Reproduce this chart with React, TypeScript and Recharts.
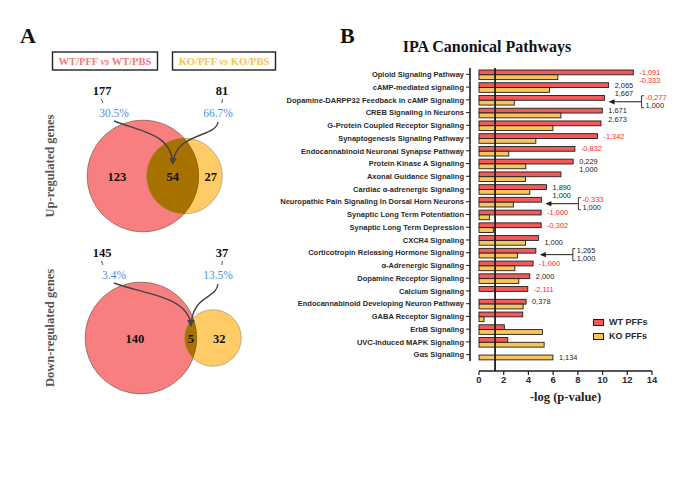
import {
  Bar, BarChart, Label, Legend, ReferenceLine, Scatter, ScatterChart, XAxis, YAxis, ZAxis,
} from "recharts";

// ---- panel B data (IPA canonical pathways, -log p) ----
const pathways = [
  "Opioid Signaling Pathway",
  "cAMP-mediated signaling",
  "Dopamine-DARPP32 Feedback in cAMP Signaling",
  "CREB Signaling in Neurons",
  "G-Protein Coupled Receptor Signaling",
  "Synaptogenesis Signaling Pathway",
  "Endocannabinoid Neuronal Synapse Pathway",
  "Protein Kinase A Signaling",
  "Axonal Guidance Signaling",
  "Cardiac α-adrenergic Signaling",
  "Neuropathic Pain Signaling In Dorsal Horn Neurons",
  "Synaptic Long Term Potentiation",
  "Synaptic Long Term Depression",
  "CXCR4 Signaling",
  "Corticotropin Releasing Hormone Signaling",
  "α-Adrenergic Signaling",
  "Dopamine Receptor Signaling",
  "Calcium Signaling",
  "Endocannabinoid Developing Neuron Pathway",
  "GABA Receptor Signaling",
  "ErbB Signaling",
  "UVC-Induced MAPK Signaling",
  "Gαs Signaling",
];
const wtPffs = [12.49, 10.49, 10.16, 9.98, 9.87, 9.59, 7.76, 7.62, 6.63, 5.46, 5.05, 5.03, 5.03, 4.81, 4.6, 4.38, 4.11, 3.95, 3.81, 3.54, 2.05, 2.33, null];
const koPffs = [6.38, 5.7, 2.86, 6.63, 5.98, 4.6, 2.41, 3.79, 3.76, 4.11, 2.78, 0.84, 1.16, 3.76, 3.11, 2.9, 3.22, null, 3.57, 0.41, 5.13, 5.27, 5.98];
// z-scores written next to the bars
const wtZ = ["-1,091", "2,065", null, "1,671", null, "-1,342", "-0,832", "0,229", null, "1,890", null, "-1,000", "-0,302", null, null, "-1,000", "2,000", "-2,111", "0,378", null, null, null, null];
const koZ = ["-0,333", "1,667", null, "2,673", null, null, null, "1,000", null, "1,000", null, null, null, "1,000", null, null, null, null, null, null, null, null, "1,134"];
const callouts = [
  { row: 2, wt: "-0,277", ko: "1,000" },
  { row: 10, wt: "-0,333", ko: "1,000" },
  { row: 14, wt: "1,265", ko: "1,000" },
];
const xTicks = [0, 2, 4, 6, 8, 10, 12, 14];
const pCutoff = 1.3;

// ---- panel A data (Venn) ----
const vennGroups = ["Up-regulated genes", "Down-regulated genes"];
const wtTotals = [177, 145];
const koTotals = [81, 37];
const sharedCounts = [54, 5];

const WT_FILL = "#F25A5A";
const KO_FILL = "#F8C45C";
const INK = "#1e1e1e";
const RED = "#FF2626";
const SANS = "'Liberation Sans', Arial, sans-serif";
const SERIF = "'Liberation Serif', 'Times New Roman', serif";
const NOTE_SIZE = 7.4;

const rows = pathways.map((name, i) => ({
  name,
  wt: wtPffs[i],
  ko: koPffs[i],
  wtNote: wtZ[i],
  koNote: koZ[i],
  callout: callouts.find((c) => c.row === i) ?? null,
}));

const noteColor = (s: string) => (s.startsWith("-") ? RED : "#222");

function Callout({ tipX, y, wt, ko }: { tipX: number; y: number; wt: string; ko: string }) {
  const bx = tipX + 33;
  return (
    <g>
      <line x1={tipX + 5} x2={bx} y1={y} y2={y} stroke={INK} strokeWidth={1} />
      <path d={`M${tipX},${y} L${tipX + 6},${y - 2.6} L${tipX + 6},${y + 2.6} Z`} fill={INK} />
      <path d={`M${bx + 2.5},${y - 6} H${bx} V${y + 6} H${bx + 2.5}`} fill="none" stroke={INK} strokeWidth={0.9} />
      <text x={bx + 4} y={y - 4.5} dy={2.6} fontSize={NOTE_SIZE} fontFamily={SANS} fill={noteColor(wt)}>{wt}</text>
      <text x={bx + 4} y={y + 4} dy={2.6} fontSize={NOTE_SIZE} fontFamily={SANS} fill={noteColor(ko)}>{ko}</text>
    </g>
  );
}

function WtBar(props: any) {
  const { x, y, width, height, payload } = props;
  if (!payload || payload.wt == null) return null;
  const unit = width / payload.wt;
  const end = x + Math.max(payload.wt, payload.ko ?? 0) * unit;
  return (
    <g>
      <rect x={x} y={y} width={width} height={height} fill={WT_FILL} stroke={INK} strokeWidth={0.9} />
      {payload.wtNote && (
        <text x={end + 6} y={y + height / 2} dy={2.6} fontSize={NOTE_SIZE} fontFamily={SANS} fill={noteColor(payload.wtNote)}>
          {payload.wtNote}
        </text>
      )}
      {payload.callout && (
        <Callout tipX={x + width + 4} y={y + height + 1.5} wt={payload.callout.wt} ko={payload.callout.ko} />
      )}
    </g>
  );
}

function KoBar(props: any) {
  const { x, y, width, height, payload } = props;
  if (!payload || payload.ko == null) return null;
  const unit = width / payload.ko;
  const end = x + Math.max(payload.ko, payload.wt ?? 0) * unit;
  const shift = payload.wtNote ? 3.5 : 0;
  return (
    <g>
      <rect x={x} y={y} width={width} height={height} fill={KO_FILL} stroke={INK} strokeWidth={0.9} />
      {payload.koNote && (
        <text x={end + 6} y={y + height / 2 + shift} dy={2.6} fontSize={NOTE_SIZE} fontFamily={SANS} fill={noteColor(payload.koNote)}>
          {payload.koNote}
        </text>
      )}
    </g>
  );
}

const BAND = 12.8;
function PathwayTick({ x, y, payload }: any) {
  return (
    <g>
      <line x1={x - 9} x2={x - 9} y1={y - BAND / 2} y2={y + BAND / 2} stroke={INK} strokeWidth={1.6} />
      <line x1={x - 13} x2={x - 9} y1={y} y2={y} stroke={INK} strokeWidth={1} />
      <text x={x - 15} y={y} dy={2.7} textAnchor="end" fontSize={7.5} fontWeight="bold" fontFamily={SANS} fill="#2a2a2a">
        {payload.value}
      </text>
    </g>
  );
}

function PathwayLegend() {
  const items = [
    { label: "WT PFFs", color: WT_FILL },
    { label: "KO PFFs", color: KO_FILL },
  ];
  return (
    <div style={{ fontFamily: SANS }}>
      {items.map((it) => (
        <div key={it.label} style={{ display: "flex", alignItems: "center", height: 14 }}>
          <span style={{ width: 9, height: 5, background: it.color, border: `1px solid ${INK}`, marginRight: 5 }} />
          <span style={{ fontSize: 9, fontWeight: "bold", color: "#2a2a2a" }}>{it.label}</span>
        </div>
      ))}
    </div>
  );
}

// ---- Venn helpers ----
function lensArea(d: number, r1: number, r2: number) {
  if (d >= r1 + r2) return 0;
  if (d <= Math.abs(r1 - r2)) return Math.PI * Math.min(r1, r2) ** 2;
  const a1 = Math.acos((d * d + r1 * r1 - r2 * r2) / (2 * d * r1));
  const a2 = Math.acos((d * d + r2 * r2 - r1 * r1) / (2 * d * r2));
  const k = Math.sqrt((-d + r1 + r2) * (d + r1 - r2) * (d - r1 + r2) * (d + r1 + r2));
  return r1 * r1 * a1 + r2 * r2 * a2 - k / 2;
}
function centerGap(r1: number, r2: number, area: number) {
  let lo = Math.abs(r1 - r2);
  let hi = r1 + r2;
  for (let i = 0; i < 60; i++) {
    const mid = (lo + hi) / 2;
    if (lensArea(mid, r1, r2) > area) lo = mid;
    else hi = mid;
  }
  return (lo + hi) / 2;
}

const BIG_R = 56;
const vennAnchors = [
  { x: 143, y: 176 },
  { x: 141, y: 338 },
];
const totalCols = [102, 222];
const pctCols = [114, 218];

const venns = vennGroups.map((name, g) => {
  const maxArea = Math.PI * BIG_R * BIG_R;
  const perGene = maxArea / wtTotals[g];
  const r2 = Math.sqrt((koTotals[g] * perGene) / Math.PI);
  const d = centerGap(BIG_R, r2, sharedCounts[g] * perGene);
  const { x, y } = vennAnchors[g];
  return {
    name,
    maxArea,
    points: [
      { x, y, z: wtTotals[g], role: "wt", g },
      { x: x + d, y, z: koTotals[g], role: "ko", g, r1: BIG_R, d },
    ],
  };
});

function VennCircle(props: any) {
  const { cx, cy, width, payload } = props;
  const r = width / 2;
  const g = payload.g;
  if (payload.role === "wt") {
    return (
      <g>
        <defs>
          <clipPath id={`wtClip${g}`}>
            <circle cx={cx} cy={cy} r={r} />
          </clipPath>
          <marker id={`vArrow${g}`} viewBox="0 0 10 10" refX="9" refY="5" markerWidth="5" markerHeight="5" orient="auto">
            <path d="M0,0 L10,5 L0,10 Z" fill="#444" />
          </marker>
        </defs>
        <circle cx={cx} cy={cy} r={r} fill="#F87F7F" stroke="#9a8a8a" strokeWidth={0.6} />
      </g>
    );
  }
  const { r1, d } = payload;
  const wx = cx - d;
  const ox = (cx - r + wx + r1) / 2;
  const onlyWtX = (wx - r1 + cx - r) / 2;
  const onlyKoX = (wx + r1 + cx + r) / 2;
  const shared = sharedCounts[g];
  const pctWt = ((shared / wtTotals[g]) * 100).toFixed(1) + "%";
  const pctKo = ((shared / koTotals[g]) * 100).toFixed(1) + "%";
  const num = { fontFamily: SERIF, fontWeight: "bold" as const, fontSize: 12.5, fill: "#111", textAnchor: "middle" as const };
  const pct = { fontFamily: SERIF, fontSize: 11.5, fill: "#4A8FDB", textAnchor: "middle" as const };
  return (
    <g>
      <circle cx={cx} cy={cy} r={r} fill="#FFCB66" stroke="#9a8a6a" strokeWidth={0.6} />
      <circle cx={cx} cy={cy} r={r} fill="#A87200" clipPath={`url(#wtClip${g})`} />
      <circle cx={wx} cy={cy} r={r1} fill="none" stroke="#6b5020" strokeWidth={0.5} clipPath={`url(#wtClip${g})`} />
      <text x={onlyWtX} y={cy + 4.5} {...num}>{wtTotals[g] - shared}</text>
      <text x={ox} y={cy + 4.5} {...num}>{shared}</text>
      <text x={onlyKoX} y={cy + 4.5} {...num}>{koTotals[g] - shared}</text>

      <text x={totalCols[0]} y={cy - 81} {...num}>{wtTotals[g]}</text>
      <text x={totalCols[1]} y={cy - 81} {...num}>{koTotals[g]}</text>
      <line x1={totalCols[0] - 0.5} y1={cy - 77} x2={totalCols[0] + 0.8} y2={cy - 73} stroke="#444" strokeWidth={0.9} />
      <line x1={totalCols[1] + 0.5} y1={cy - 77} x2={totalCols[1] - 0.2} y2={cy - 73} stroke="#444" strokeWidth={0.9} />
      <text x={pctCols[0]} y={cy - 59} {...pct}>{pctWt}</text>
      <text x={pctCols[1]} y={cy - 59} {...pct}>{pctKo}</text>

      <path
        d={`M${pctCols[0]},${cy - 55} C${pctCols[0] + 28},${cy - 44} ${ox - 1},${cy - 42} ${ox},${cy - 12}`}
        fill="none" stroke="#444" strokeWidth={1.4} markerEnd={`url(#vArrow${g})`}
      />
      <path
        d={`M${pctCols[1]},${cy - 54} C${pctCols[1] - 2},${cy - 38} ${ox + 2},${cy - 44} ${ox},${cy - 12}`}
        fill="none" stroke="#444" strokeWidth={1.4} markerEnd={`url(#vArrow${g})`}
      />
    </g>
  );
}

export default function App() {
  return (
    <div style={{ position: "absolute", left: 0, top: 0, width: 695, height: 490, background: "#fff" }}>
      <svg width={695} height={490} style={{ position: "absolute", left: 0, top: 0 }}>
        <text x={20} y={43} fontFamily={SERIF} fontWeight="bold" fontSize={22} fill="#111">A</text>
        <rect x={52.5} y={52} width={105} height={18} fill="none" stroke="#222" strokeWidth={1.4} />
        <text x={105} y={65} textAnchor="middle" fontFamily={SERIF} fontWeight="bold" fontSize={10.5} fill="#F47878">
          WT/PFF <tspan fontStyle="italic">vs</tspan> WT/PBS
        </text>
        <rect x={172.5} y={52} width={103} height={18} fill="none" stroke="#222" strokeWidth={1.4} />
        <text x={224} y={65} textAnchor="middle" fontFamily={SERIF} fontWeight="bold" fontSize={10.5} fill="#F8C24E">
          KO/PFF <tspan fontStyle="italic">vs</tspan> KO/PBS
        </text>
        {vennGroups.map((name, g) => (
          <text
            key={name}
            transform={`translate(54,${vennAnchors[g].y - 10}) rotate(-90)`}
            textAnchor="middle" fontFamily={SERIF} fontWeight="bold" fontSize={12.5} fill="#555"
          >
            {name}
          </text>
        ))}
        <text x={340} y={43} fontFamily={SERIF} fontWeight="bold" fontSize={22} fill="#111">B</text>
        <text x={487} y={52} textAnchor="middle" fontFamily={SERIF} fontWeight="bold" fontSize={16} fill="#111">
          IPA Canonical Pathways
        </text>
      </svg>

      <div style={{ position: "absolute", left: 0, top: 0 }}>
        <ScatterChart width={270} height={430} margin={{ top: 0, right: 0, bottom: 0, left: 0 }}>
          <XAxis type="number" dataKey="x" domain={[0, 270]} hide />
          <YAxis type="number" dataKey="y" domain={[0, 430]} reversed hide />
          {venns.map((v, g) => (
            <ZAxis key={v.name} zAxisId={g} type="number" dataKey="z" domain={[0, wtTotals[g]]} range={[0, v.maxArea]} />
          ))}
          {venns.map((v, g) => (
            <Scatter key={v.name} name={v.name} data={v.points} zAxisId={g} shape={VennCircle} isAnimationActive={false} />
          ))}
        </ScatterChart>
      </div>

      <div style={{ position: "absolute", left: 272, top: 0 }}>
        <BarChart
          width={423}
          height={490}
          data={rows}
          layout="vertical"
          margin={{ top: 68, right: 43, bottom: 89, left: 0 }}
          barSize={4.8}
          barGap={0}
        >
          <XAxis
            type="number"
            domain={[0, 14]}
            ticks={xTicks}
            axisLine={{ stroke: INK, strokeWidth: 1.6 }}
            tickLine={{ stroke: INK, strokeWidth: 1.2 }}
            tickSize={4}
            tickMargin={1}
            height={30}
            tick={{ fontSize: 9.5, fontWeight: "bold", fontFamily: SANS, fill: "#2a2a2a" }}
          >
            <Label value="-log (p-value)" position="insideBottom" offset={0} fontFamily={SERIF} fontWeight="bold" fontSize={12.5} fill="#222" />
          </XAxis>
          <YAxis
            type="category"
            dataKey="name"
            width={207}
            axisLine={false}
            tickLine={false}
            tickSize={0}
            tickMargin={0}
            padding={{ top: 0, bottom: 10 }}
            interval={0}
            tick={PathwayTick}
          />
          <ReferenceLine x={pCutoff} stroke={INK} strokeWidth={1.8} />
          <Bar dataKey="wt" name="WT PFFs" fill={WT_FILL} shape={WtBar} isAnimationActive={false} />
          <Bar dataKey="ko" name="KO PFFs" fill={KO_FILL} shape={KoBar} isAnimationActive={false} />
          <Legend
            layout="horizontal"
            verticalAlign="middle"
            align="center"
            content={PathwayLegend}
            wrapperStyle={{ position: "absolute", left: 321, top: 315, width: 80 }}
          />
        </BarChart>
      </div>
    </div>
  );
}
